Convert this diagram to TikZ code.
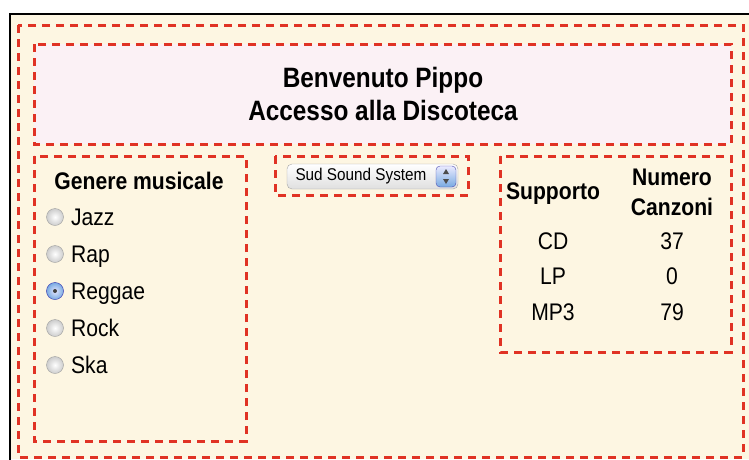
\documentclass[tikz,border=0pt]{standalone}
\usepackage{fontspec}
\setmainfont{Liberation Sans}
\usetikzlibrary{positioning}

\definecolor{dashred}{RGB}{224,50,36}
\definecolor{paper}{RGB}{253,246,226}
\definecolor{headpink}{RGB}{251,241,245}
\definecolor{knobblue}{RGB}{120,170,225}

\tikzset{
    redbox/.style={draw=dashred, line width=3pt, dash pattern=on 8pt off 6pt},
    headtext/.style={font=\bfseries\fontsize{28}{32}\selectfont, xscale=0.87,
        text height=20pt, text depth=0pt},
    boldtext/.style={font=\bfseries\fontsize{24}{28}\selectfont, xscale=0.88,
        text height=17.2pt, text depth=0pt},
    bodytext/.style={font=\fontsize{24}{28}\selectfont, xscale=0.88,
        text height=17.2pt, text depth=0pt},
    radio/.style={circle, draw=gray!75, inner color=white, outer color=gray!40,
        minimum size=17pt, inner sep=0pt},
    radioon/.style={circle, draw=blue!50!gray, inner color=blue!10, outer color=knobblue,
        minimum size=17pt, inner sep=0pt},
}

\begin{document}
\begin{tikzpicture}[x=1pt, y=-1pt]
    \useasboundingbox (0,0) rectangle (749,459);
    \fill[paper] (10,14) rectangle (749,459);
    \fill[headpink] (34,44) rectangle (731,144);
    \draw[line width=2pt] (10,470) |- (760,14);

    % dashed frames
    \draw[redbox] (18,25) rectangle (743,457);
    \draw[redbox] (34,44) rectangle (731,144);
    \draw[redbox] (34,156) rectangle (246,441);
    \draw[redbox] (275,156) rectangle (468,195);
    \draw[redbox] (500,156) rectangle (731,352);

    % header
    \node[headtext] (welcome) at (383,77) {Benvenuto Pippo};
    \node[headtext] (access) at (383,110) {Accesso alla Discoteca};

    % genre choice
    \node[boldtext] (genre) at (139,181) {Genere musicale};
    \foreach \g [count=\i] in {Jazz,Rap,Reggae,Rock,Ska} {
        \node[radio] (r\i) at (55,180+37*\i) {};
        \node[bodytext, anchor=west] (g\i) at (68,180+37*\i) {\g};
    }
    \node[radioon] (on) at (r3) {};
    \fill[black!75] (on) circle (2pt);

    % artist menu
    \draw[rounded corners=5pt, draw=gray!70, top color=white, bottom color=gray!25]
        (287,164) rectangle (458,189);
    \node[font=\fontsize{17}{20}\selectfont, xscale=0.9] (artist) at (361,176) {Sud Sound System};
    \draw[rounded corners=4pt, draw=blue!40!gray, top color=blue!8, bottom color=knobblue]
        (436,166) rectangle (456,187);
    \fill[black!70] (443,174) -- (449,174) -- (446,169) -- cycle;
    \fill[black!70] (443,179) -- (449,179) -- (446,184) -- cycle;

    % table
    \node[boldtext] (support) at (553,191) {Supporto};
    \node[boldtext] (number) at (672,177) {Numero};
    \node[boldtext] (songs) at (672,207) {Canzoni};
    \node[bodytext] (cd) at (553,241) {CD};
    \node[bodytext] (cdn) at (672,241) {37};
    \node[bodytext] (lp) at (553,276) {LP};
    \node[bodytext] (lpn) at (672,276) {0};
    \node[bodytext] (mp) at (553,312) {MP3};
    \node[bodytext] (mpn) at (672,312) {79};
\end{tikzpicture}
\end{document}
